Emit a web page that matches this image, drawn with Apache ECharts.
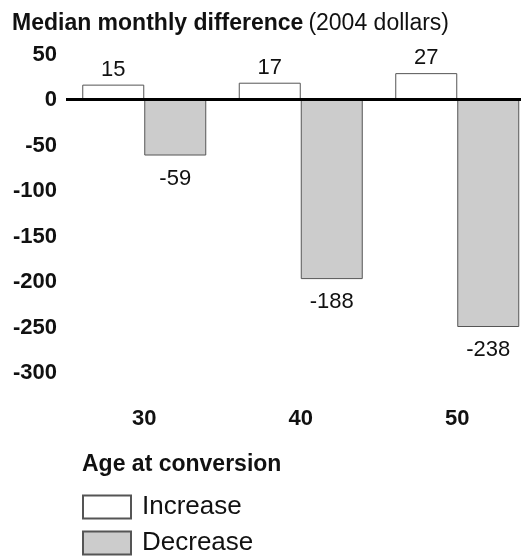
<!DOCTYPE html>
<html>
<head>
<meta charset="utf-8">
<script src="https://cdn.jsdelivr.net/npm/echarts@6/dist/echarts.min.js"></script>
<style>html,body{margin:0;padding:0;background:#fff}#c{width:521px;height:557px}</style>
</head>
<body>
<div id="c"></div>
<script>
var categories = ['30', '40', '50'];
var increaseValues = [15, 17, 27];
var decreaseValues = [-59, -188, -238];
var yMin = -300, yMax = 50, yStep = 50;

var FONT = '"Liberation Sans", Arial, Helvetica, sans-serif';
var chart = echarts.init(document.getElementById('c'), null, {renderer: 'canvas'});
var legendText = {fontFamily: FONT, fontSize: 26, color: '#111', padding: [0, 0, 0, 6]};
chart.setOption({
  animation: false,
  backgroundColor: '#fff',
  title: [{
    left: 12, top: 12, padding: 0,
    text: '{b|Median monthly difference} {n|(2004 dollars)}',
    textStyle: {
      rich: {
        b: {fontFamily: FONT, fontSize: 23, fontWeight: 'bold', color: '#111'},
        n: {fontFamily: FONT, fontSize: 23, fontWeight: 'normal', color: '#111'}
      }
    }
  }, {
    left: 82, top: 453, padding: 0,
    text: 'Age at conversion',
    textStyle: {fontFamily: FONT, fontSize: 23, fontWeight: 'bold', color: '#111'}
  }],
  legend: [{
    left: 82, top: 494, padding: 0,
    itemWidth: 48, itemHeight: 23, icon: 'rect',
    data: ['Increase'], textStyle: legendText
  }, {
    left: 82, top: 530, padding: 0,
    itemWidth: 48, itemHeight: 23, icon: 'rect',
    data: ['Decrease'], textStyle: legendText
  }],
  grid: [
    {left: 66, width: 469.5, top: 51.1, height: 335.3, outerBoundsMode: 'none', containLabel: false},
    {left: 66, width: 469.5, top: 55, height: 318, outerBoundsMode: 'none', containLabel: false}
  ],
  xAxis: [{
    type: 'category', data: categories, position: 'bottom', gridIndex: 0,
    axisLine: {show: false, onZero: false}, axisTick: {show: false},
    axisLabel: {margin: 22, fontFamily: FONT, fontSize: 22, fontWeight: 'bold', color: '#111'}
  }, {
    type: 'value', gridIndex: 1, show: false
  }],
  yAxis: [{
    type: 'value', min: yMin, max: yMax, interval: yStep, gridIndex: 0,
    axisLine: {show: false}, axisTick: {show: false}, splitLine: {show: false},
    axisLabel: {show: false}
  }, {
    type: 'value', min: yMin, max: yMax, interval: yStep, gridIndex: 1,
    axisLine: {show: false}, axisTick: {show: false}, splitLine: {show: false},
    axisLabel: {margin: 9, fontFamily: FONT, fontSize: 22, fontWeight: 'bold', color: '#111'}
  }],
  series: [{
    name: 'Increase', type: 'bar', data: increaseValues,
    barWidth: 62, barGap: '0%',
    itemStyle: {color: '#ffffff', borderColor: '#555', borderWidth: 1},
    label: {show: true, position: 'top', distance: 4, fontFamily: FONT, fontSize: 22, color: '#111'},
    markLine: {
      silent: true, symbol: ['none', 'none'], label: {show: false},
      lineStyle: {color: '#000', width: 3, type: 'solid'},
      data: [{yAxis: 0}]
    },
    z: 2
  }, {
    name: 'Decrease', type: 'bar', data: decreaseValues,
    barWidth: 62, barGap: '0%',
    itemStyle: {color: '#cccccc', borderColor: '#555', borderWidth: 1},
    label: {show: true, position: 'bottom', distance: 12, fontFamily: FONT, fontSize: 22, color: '#111'},
    z: 2
  }]
});
</script>
</body>
</html>
